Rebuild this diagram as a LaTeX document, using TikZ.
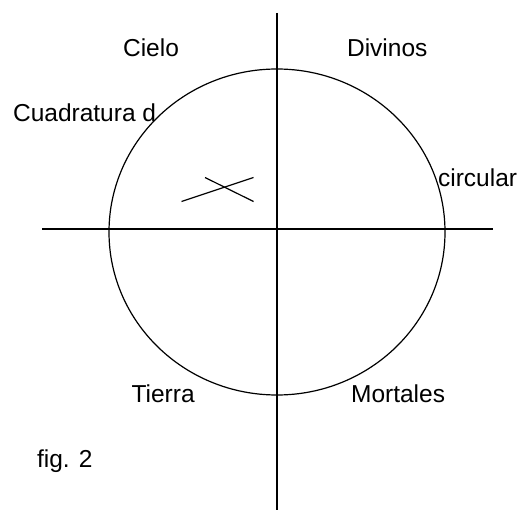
\documentclass[tikz,border=0pt]{standalone}
\usepackage{fontspec}
\setmainfont{Liberation Sans}
\begin{document}
\begin{tikzpicture}[x=1pt,y=-1pt,line width=1.2pt,
    lbl/.style={font=\fontsize{24.5}{29}\selectfont,anchor=base west,inner sep=0pt}]
    \useasboundingbox (0,0) rectangle (524,510);

    % Labels
    \node[lbl] (cielo)   at (122.5,57)  {Cielo};
    \node[lbl] (divinos) at (346.5,57)  {Divinos};
    \node[lbl] (cuad)    at (12.5,122)  {Cuadratura d};
    \node[lbl] (circ)    at (437.5,187) {circular};
    \node[lbl] (tierra)  at (131,402)   {Tierra};
    \node[lbl] (mort)    at (350.5,402) {Mortales};
    \node[lbl] (fig)     at (36.5,467)  {fig. 2};

    % Circle
    \draw (277,232) ellipse [x radius=168, y radius=163];

    % Axes
    \draw (277,13) -- (277,510);
    \draw (42,229) -- (493,229);

    % Cross
    \draw (181.5,201.5) -- (253.5,177.5);
    \draw (205,177.5) -- (253.5,201.5);
\end{tikzpicture}
\end{document}
